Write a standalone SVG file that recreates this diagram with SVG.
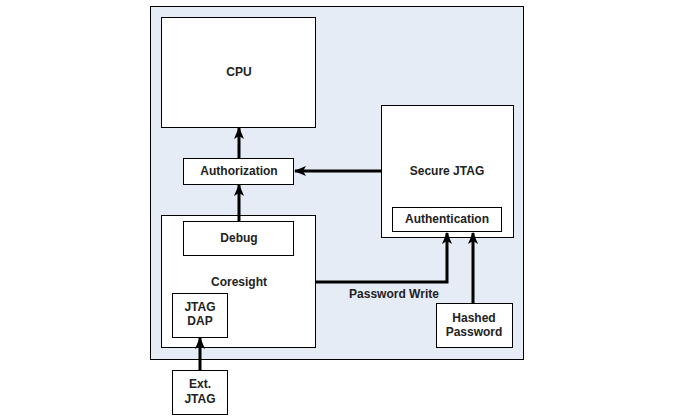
<svg xmlns="http://www.w3.org/2000/svg" width="697" height="418" viewBox="0 0 697 418">
<style>
.box{fill:#fff;stroke:#000;stroke-width:1}
.t{font-family:"Liberation Sans",Arial,sans-serif;font-weight:bold;font-size:12px;fill:#222;text-anchor:middle}
.c{fill:none;stroke:#000;stroke-width:3}
</style>
<defs>
<marker id="ah" viewBox="0 0 12 10" refX="11" refY="5" markerWidth="12" markerHeight="10" markerUnits="userSpaceOnUse" orient="auto">
<path d="M0,0 L12,5 L0,10 L3,5 Z" fill="#000"/>
</marker>
</defs>
<rect width="697" height="418" fill="#fff"/>
<g id="chip"><rect x="150.5" y="6.5" width="373" height="353" fill="#e6ecf6" stroke="#000" stroke-width="1"/></g>
<g id="cpu"><rect class="box" x="161.5" y="17.5" width="154" height="110"/><text class="t" x="239" y="76">CPU</text></g>
<g id="authorization"><rect class="box" x="183.5" y="158.5" width="110" height="26"/><text class="t" x="239" y="175">Authorization</text></g>
<g id="securejtag"><rect class="box" x="381.5" y="105.5" width="132" height="132"/><text class="t" x="447" y="175">Secure JTAG</text></g>
<g id="authentication"><rect class="box" x="392.5" y="207.5" width="109" height="24"/><text class="t" x="447" y="223">Authentication</text></g>
<g id="coresight"><rect class="box" x="161.5" y="215.5" width="154" height="132"/><text class="t" x="239" y="286">Coresight</text></g>
<g id="debug"><rect class="box" x="183.5" y="221.5" width="110" height="34"/><text class="t" x="239" y="242">Debug</text></g>
<g id="jtagdap"><rect class="box" x="172.5" y="293.5" width="55" height="44"/><text class="t" x="200" y="311">JTAG</text><text class="t" x="200" y="325">DAP</text></g>
<g id="extjtag"><rect class="box" x="172.5" y="370.5" width="55" height="44"/><text class="t" x="200" y="388">Ext.</text><text class="t" x="200" y="403">JTAG</text></g>
<g id="hashed"><rect class="box" x="436.5" y="303.5" width="76" height="44"/><text class="t" x="474" y="322">Hashed</text><text class="t" x="474" y="336">Password</text></g>
<g id="connectors">
<line class="c" x1="239" y1="158" x2="239" y2="128" marker-end="url(#ah)"/>
<line class="c" x1="239" y1="221" x2="239" y2="185" marker-end="url(#ah)"/>
<line class="c" x1="381" y1="171" x2="295" y2="171" marker-end="url(#ah)"/>
<polyline class="c" points="316,282 447,282 447,233" marker-end="url(#ah)"/>
<line class="c" x1="473" y1="303" x2="473" y2="233" marker-end="url(#ah)"/>
<line class="c" x1="200" y1="370" x2="200" y2="338" marker-end="url(#ah)"/>
<text class="t" x="394" y="298">Password Write</text>
</g>
</svg>
